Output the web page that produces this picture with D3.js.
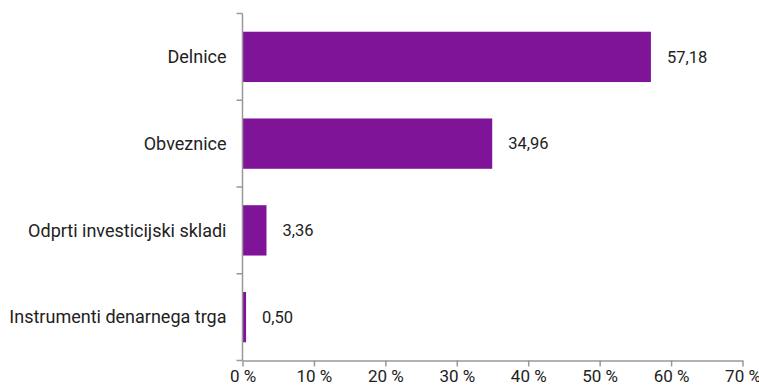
<!DOCTYPE html>
<html><head><meta charset="utf-8">
<script src="https://cdn.jsdelivr.net/npm/d3@7"></script>
<style>body{margin:0;background:#fff}svg{display:block;font-family:Roboto, "Noto Sans", sans-serif}</style>
</head><body><svg id="c" width="759" height="392"></svg>
<script>
const categories = ["Delnice","Obveznice","Odprti investicijski skladi","Instrumenti denarnega trga"];
const values = [57.18, 34.96, 3.36, 0.50];
const valueLabels = ["57,18","34,96","3,36","0,50"];
const xTicks = [0,10,20,30,40,50,60,70];

const svg = d3.select("#c");
const mLeft = 242.5, mRight = 742.5, mTop = 13.5, mBottom = 360.5;
const x = d3.scaleLinear().domain([0,70]).range([mLeft,mRight]);
const y = d3.scaleBand().domain(categories).range([mTop,mBottom]).paddingInner(0.42).paddingOuter(0.21);
const axisColor = "#999";
const txt = "#222";

svg.selectAll("rect.bar").data(values).join("rect")
  .attr("class","bar")
  .attr("x", x(0))
  .attr("y",(d,i)=>y(categories[i]))
  .attr("width", d=>x(d)-x(0))
  .attr("height", y.bandwidth())
  .attr("fill","#7f1499");

svg.selectAll("text.val").data(values).join("text")
  .attr("class","val")
  .attr("x", d=>x(d)+16)
  .attr("y",(d,i)=>y(categories[i])+y.bandwidth()/2)
  .attr("dy","0.35em")
  .attr("font-size",16.5).attr("fill",txt)
  .text((d,i)=>valueLabels[i]);

// x axis
const xa = svg.append("g").attr("transform",`translate(0,${mBottom})`)
  .call(d3.axisBottom(x).tickValues(xTicks).tickSize(6).tickSizeOuter(0).tickFormat(d=>d+" %"));
xa.attr("font-family",null);
xa.select(".domain").attr("stroke",axisColor).attr("stroke-width",1.5);
xa.selectAll(".tick line").attr("stroke",axisColor).attr("stroke-width",1.5);
xa.selectAll(".tick text").attr("font-size",17).attr("fill",txt).attr("y",9).attr("dy","0.71em");

// y axis
const boundaries = d3.range(categories.length+1).map(i=>mTop + i*(mBottom-mTop)/categories.length);
svg.append("line").attr("x1",mLeft).attr("x2",mLeft).attr("y1",mTop).attr("y2",mBottom)
  .attr("stroke",axisColor).attr("stroke-width",1.5);
svg.selectAll("line.yt").data(boundaries).join("line").attr("class","yt")
  .attr("x1",mLeft-6).attr("x2",mLeft).attr("y1",d=>d).attr("y2",d=>d)
  .attr("stroke",axisColor).attr("stroke-width",1.5);
svg.selectAll("text.cat").data(categories).join("text").attr("class","cat")
  .attr("x",mLeft-16).attr("y",d=>y(d)+y.bandwidth()/2).attr("dy","0.35em")
  .attr("text-anchor","end").attr("font-size",18).attr("fill",txt).text(d=>d);
</script></body></html>
